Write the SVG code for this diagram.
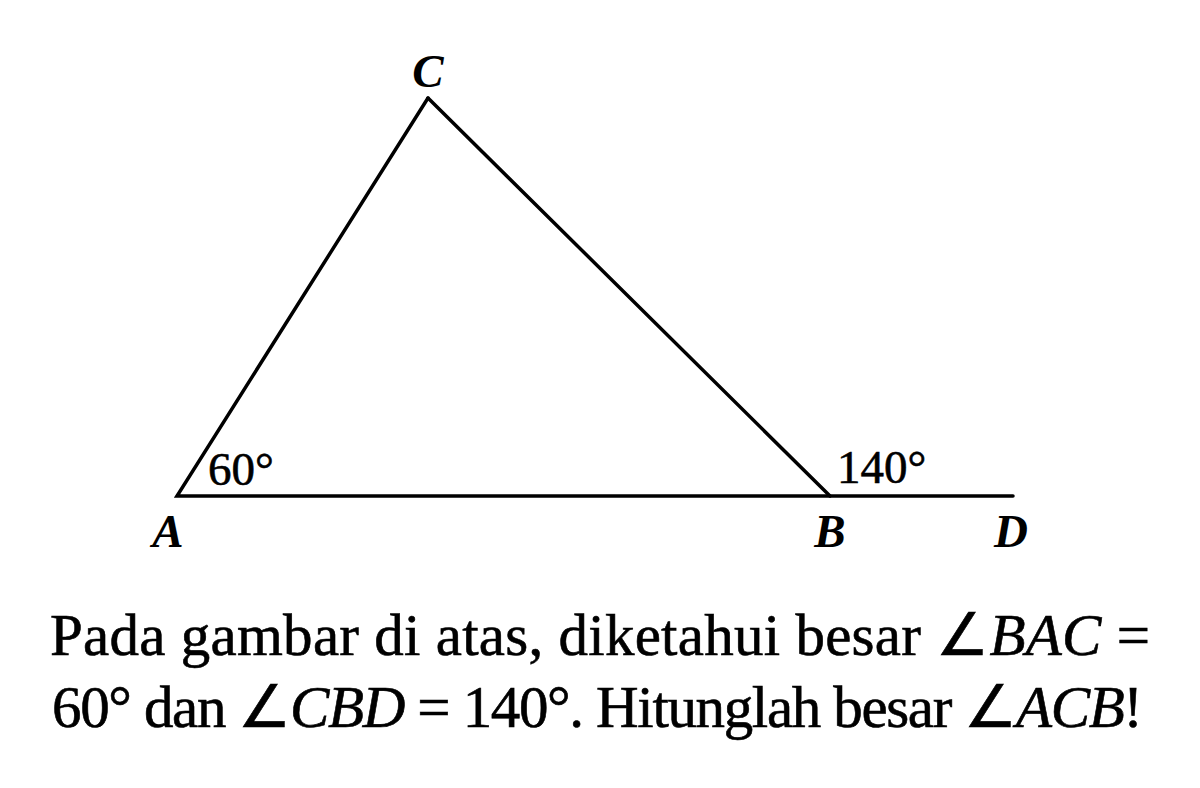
<svg xmlns="http://www.w3.org/2000/svg" width="1200" height="788" viewBox="0 0 1200 788">
<style>
.ln{stroke:#000;stroke-width:3.5;fill:none;stroke-linecap:round;stroke-linejoin:miter}
.lbl{font-family:"Liberation Serif","Times New Roman",serif;font-style:italic;font-weight:bold;font-size:47px;fill:#000}
.ang{font-family:"Liberation Serif","Times New Roman",serif;font-size:47px;fill:#000;stroke:#000;stroke-width:0.6}
.txt{font-family:"Liberation Serif","Times New Roman",serif;font-size:59px;fill:#000;stroke:#000;stroke-width:0.6}
.it{font-style:italic}
</style>
<rect width="1200" height="788" fill="#fff"/>
<g id="connectors">
<polyline class="ln" points="428,98 177,496 1013,496"/>
<line class="ln" x1="428" y1="98" x2="830" y2="496"/>
</g>
<g id="node-C"><text class="lbl" x="428" y="87" text-anchor="middle">C</text></g>
<g id="node-A"><text class="lbl" x="168" y="547" text-anchor="middle">A</text><text class="ang" x="208" y="485">60°</text></g>
<g id="node-B"><text class="lbl" x="830" y="547" text-anchor="middle">B</text><text class="ang" x="837" y="483">140°</text></g>
<g id="node-D"><text class="lbl" x="1011" y="547" text-anchor="middle">D</text></g>
<g id="question">
<text class="txt" x="50" y="655" textLength="1100" lengthAdjust="spacing">Pada gambar di atas, diketahui besar ∠<tspan class="it">BAC</tspan> =</text>
<text class="txt" x="52" y="727" font-size="57" textLength="1091" lengthAdjust="spacing">60° dan ∠<tspan class="it">CBD</tspan> = 140°. Hitunglah besar ∠<tspan class="it">ACB</tspan>!</text>
</g>
</svg>
